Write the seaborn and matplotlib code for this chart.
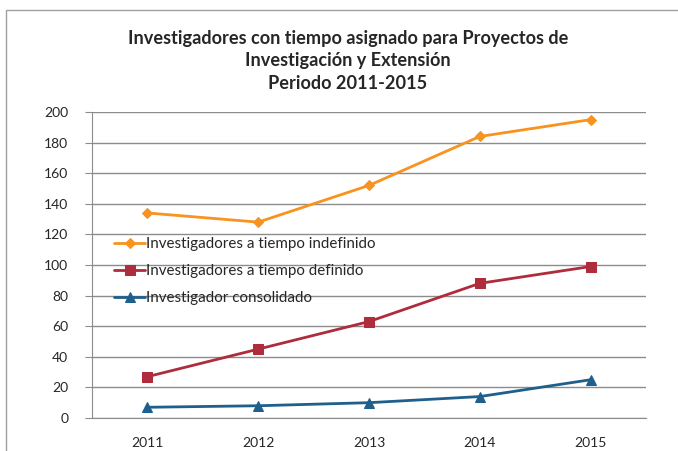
import numpy as np
import pandas as pd
import matplotlib
matplotlib.use('Agg')
import matplotlib.pyplot as plt
import seaborn as sns
from matplotlib.patches import Rectangle

# Data
years = ['2011', '2012', '2013', '2014', '2015']
indefinido = [134, 128, 152, 184, 195]
definido = [27, 45, 63, 88, 99]
consolidado = [7, 8, 10, 14, 25]

labels = ['Investigadores a tiempo indefinido',
          'Investigadores a tiempo definido',
          'Investigador consolidado']
colors = ['#F7931E', '#AE2C3C', '#1F5F8B']
markers = ['D', 's', '^']
msizes = [5, 7, 7]

sns.set_style('white')
plt.rcParams['font.family'] = ['Lato', 'DejaVu Sans']

fig = plt.figure(figsize=(6.78, 4.51), dpi=100)
ax = fig.add_axes([0.1357, 0.0732, 0.8171, 0.6785])

x = np.arange(len(years))
for vals, lab, col, mk, ms in zip([indefinido, definido, consolidado], labels, colors, markers, msizes):
    df = pd.DataFrame({'x': x, 'y': vals})
    sns.lineplot(data=df, x='x', y='y', ax=ax, color=col, marker=mk, markersize=ms,
                 markeredgecolor=col, linewidth=2, label=lab)

ax.set_xlim(-0.5, 4.5)
ax.set_ylim(0, 200)
ax.set_yticks(range(0, 201, 20))
ax.set_xticks(x)
ax.set_xticklabels(years)
ax.set_xlabel('')
ax.set_ylabel('')
ax.yaxis.grid(True, color='#8C8C8C', linewidth=1)
ax.set_axisbelow(True)
for s in ['top', 'right']:
    ax.spines[s].set_visible(False)
ax.spines['left'].set_color('#8C8C8C')
ax.spines['bottom'].set_color('#8C8C8C')
ax.tick_params(axis='y', which='major', left=True, length=5, color='#8C8C8C',
               labelsize=10, pad=12)
ax.tick_params(axis='x', bottom=False, labelsize=10, pad=10)

leg = ax.legend(loc='upper left', bbox_to_anchor=(0.02, 0.625), frameon=False,
                fontsize=10.9, handlelength=2.1, handletextpad=0.05,
                labelspacing=0.85, borderaxespad=0.3)

fig.text(0.513, 0.865, 'Investigadores con tiempo asignado para Proyectos de\n'
         'Investigación y Extensión\nPeriodo 2011-2015',
         ha='center', va='center', fontsize=13.1, fontweight='bold',
         linespacing=1.4)

# chart border
fig.patches.append(Rectangle((0.009, -0.05), 1.1, 1.028, transform=fig.transFigure,
                             fill=False, edgecolor='#A0A0A0', linewidth=1))

fig.savefig('out.png', dpi=100)
